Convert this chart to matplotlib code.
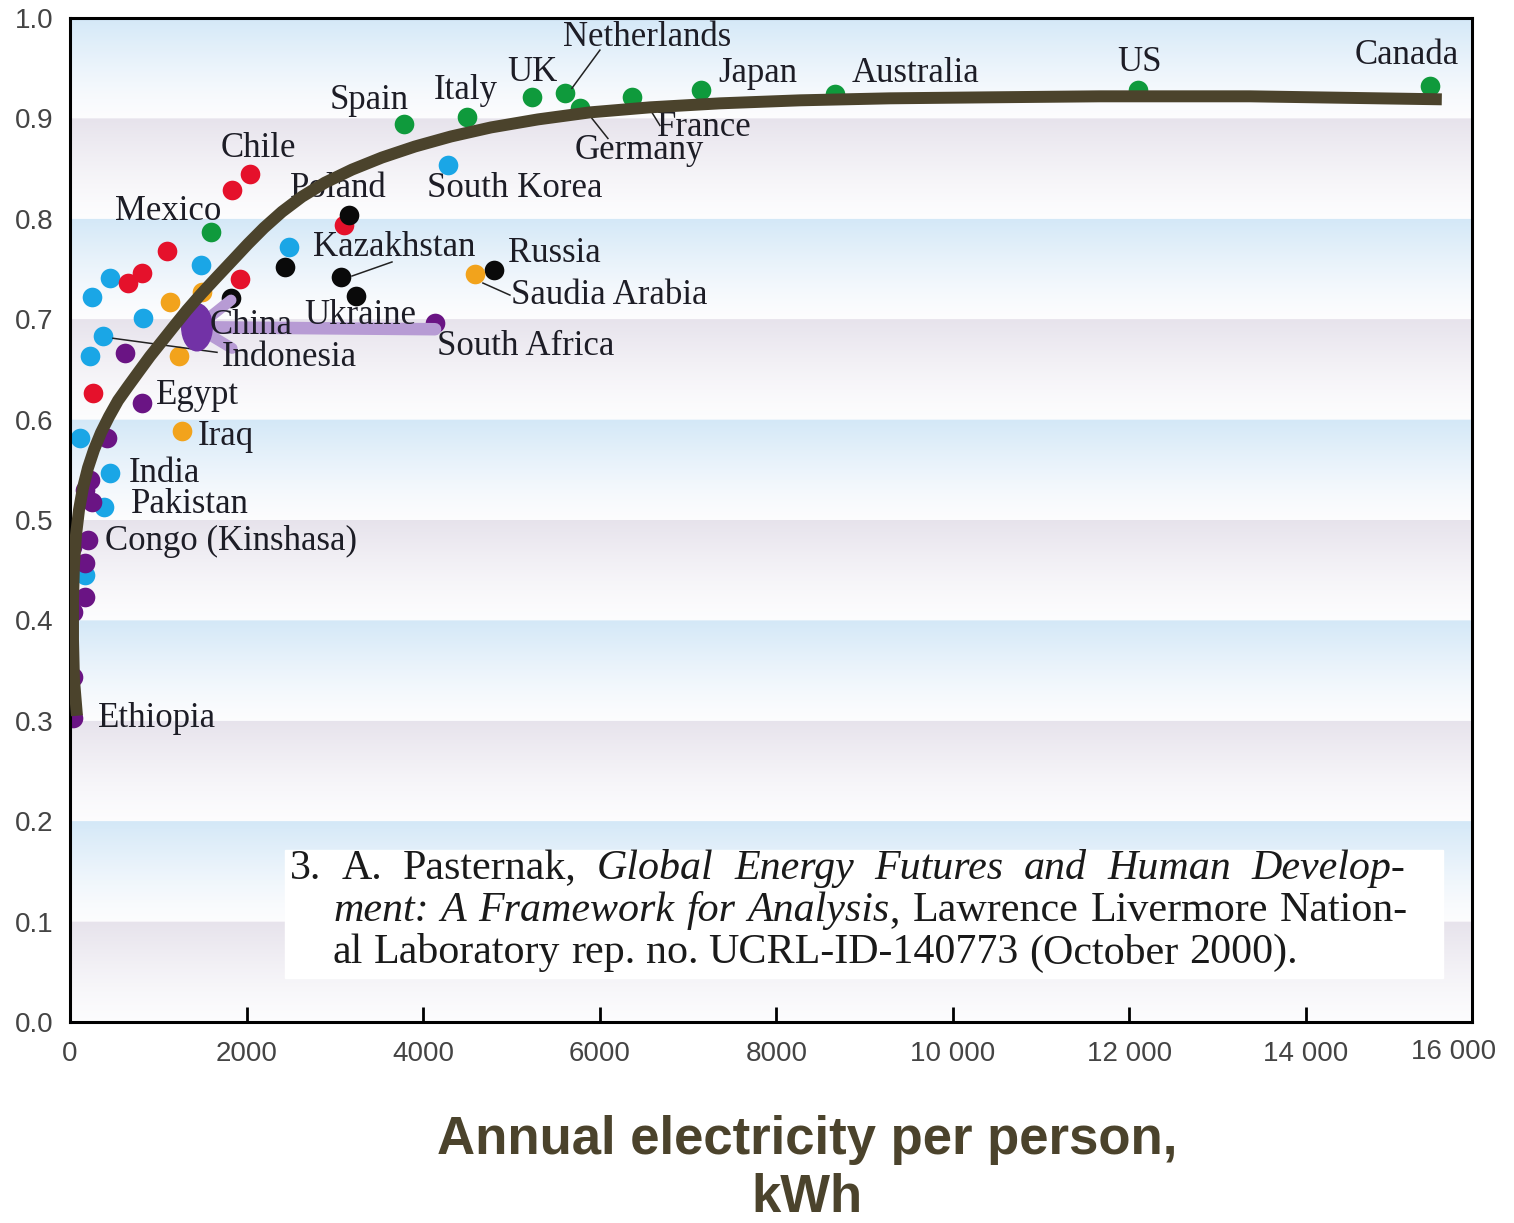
import numpy as np
import matplotlib
matplotlib.use('Agg')
import matplotlib.pyplot as plt
from matplotlib.patches import Ellipse, Rectangle

# 各国数据 (年人均用电量 kWh, 指数)
green_x = [15400, 12100, 8660, 7150, 6370, 5780, 5610, 5230, 4500, 3780, 1600]
green_y = [0.932, 0.928, 0.924, 0.928, 0.921, 0.910, 0.925, 0.921, 0.901, 0.894, 0.787]

blue_x = [4280, 2480, 1485, 830, 455, 250, 375, 228, 113, 455, 385, 170]
blue_y = [0.854, 0.772, 0.754, 0.701, 0.741, 0.722, 0.683, 0.663, 0.582, 0.547, 0.513, 0.445]

red_x = [2040, 1835, 3100, 1100, 815, 657, 1925, 260]
red_y = [0.845, 0.829, 0.794, 0.768, 0.746, 0.736, 0.740, 0.626]

black_x = [3160, 2435, 3070, 3240, 1823, 4800]
black_y = [0.804, 0.752, 0.742, 0.723, 0.721, 0.749]

orange_x = [4590, 1495, 1133, 1234, 1268]
orange_y = [0.745, 0.727, 0.717, 0.663, 0.589]

purple_x = [4135, 623, 815, 419, 227, 170, 249, 204, 23, 170, 170, 34, 34, 34]
purple_y = [0.696, 0.666, 0.617, 0.582, 0.540, 0.530, 0.518, 0.480, 0.473, 0.457, 0.423, 0.408, 0.344, 0.303]

china_x, china_y = 1438, 0.692
south_africa_x, south_africa_y = 4135, 0.694

# 拟合曲线
curve_x = [79, 45, 34, 34, 45, 68, 102, 147, 204, 272, 351, 442, 544, 657, 781, 906, 1042,
           1178, 1325, 1484, 1653, 1835, 2016, 2197, 2401, 2627, 2888, 3194, 3533, 3907, 4315,
           4768, 5300, 5889, 6569, 7361, 8267, 9286, 10419, 11665, 13364, 15538]
curve_y = [0.305, 0.341, 0.381, 0.420, 0.455, 0.485, 0.510, 0.532, 0.552, 0.570, 0.587, 0.603,
           0.619, 0.633, 0.648, 0.663, 0.678, 0.693, 0.709, 0.725, 0.741, 0.758, 0.775, 0.791,
           0.807, 0.822, 0.836, 0.849, 0.861, 0.872, 0.882, 0.891, 0.899, 0.906, 0.911, 0.915,
           0.918, 0.920, 0.921, 0.922, 0.922, 0.919]

# 国家标签
label_text = ['Netherlands', 'UK', 'Italy', 'Spain', 'Japan', 'Australia', 'US', 'Canada',
              'France', 'Germany', 'Chile', 'Poland', 'South Korea', 'Mexico', 'Kazakhstan',
              'Russia', 'Saudia Arabia', 'Ukraine', 'China', 'Indonesia', 'South Africa',
              'Egypt', 'Iraq', 'India', 'Pakistan', 'Congo (Kinshasa)', 'Ethiopia']
label_x = [5583, 4949, 4122, 2945, 7339, 8856, 11857, 14553, 6648, 5719, 1710, 2492, 4043, 510,
           2752, 4960, 4994, 2650, 1586, 1721, 4156, 974, 1450, 668, 691, 396, 317]
label_y = [0.981, 0.946, 0.928, 0.918, 0.945, 0.945, 0.956, 0.963, 0.891, 0.868, 0.870, 0.830,
           0.830, 0.807, 0.771, 0.765, 0.724, 0.704, 0.694, 0.662, 0.673, 0.624, 0.583, 0.546,
           0.515, 0.479, 0.302]

# 引线
leaders = [(6002, 0.968, 5685, 0.930), (5912, 0.900, 6093, 0.880), (6591, 0.906, 6682, 0.893),
           (3194, 0.743, 3647, 0.757), (4677, 0.736, 4983, 0.724), (1133, 0.694, 1280, 0.694),
           (487, 0.681, 1665, 0.667)]

xticks = [0, 2000, 4000, 6000, 8000, 10000, 12000, 14000]
xtick_labels = ['0', '2000', '4000', '6000', '8000', '10 000', '12 000', '14 000']
yticks = [0.0, 0.1, 0.2, 0.3, 0.4, 0.5, 0.6, 0.7, 0.8, 0.9, 1.0]

W, H = 1514, 1223
fig = plt.figure(figsize=(W / 100, H / 100), dpi=100)
ax = fig.add_axes([70 / W, 1 - 1022 / H, 1402 / W, 1004 / H])
xmax = 15880

# 背景渐变条纹
n = 1000
yy = (np.arange(n) + 0.5) / n
band = np.floor(yy * 10).astype(int)
frac = yy * 10 - band
blue = np.array([0.83, 0.91, 0.97])
lav = np.array([0.905, 0.89, 0.925])
white = np.array([0.99, 0.99, 0.995])
img = np.zeros((n, 1, 3))
for i in range(n):
    top = blue if band[i] % 2 == 1 else lav
    img[i, 0] = white + (top - white) * frac[i] ** 1.3
ax.imshow(img, extent=[0, xmax, 0, 1], origin='lower', aspect='auto', zorder=0)

dot = 200
ax.scatter(green_x, green_y, s=dot, color='#0f9a3c', lw=0, zorder=2)
ax.scatter(blue_x, blue_y, s=dot, color='#1aa6e6', lw=0, zorder=2)
ax.scatter(red_x, red_y, s=dot, color='#e5112b', lw=0, zorder=2)
ax.scatter(black_x, black_y, s=dot, color='#0a0a0a', lw=0, zorder=2)
ax.scatter(orange_x, orange_y, s=dot, color='#f2a31c', lw=0, zorder=2)
ax.scatter(purple_x, purple_y, s=dot, color='#6a1484', lw=0, zorder=2)

# 中国高亮
lav_c = '#b79bd4'
ax.plot([china_x, south_africa_x], [china_y, south_africa_y - 0.004], color=lav_c, lw=9,
        solid_capstyle='round', zorder=3)
ax.plot([china_x, black_x[4]], [china_y, black_y[4] - 0.002], color=lav_c, lw=8,
        solid_capstyle='round', zorder=3)
ax.plot([china_x, 1835], [china_y, 0.671], color=lav_c, lw=8, solid_capstyle='round', zorder=3)
ax.add_patch(Ellipse((china_x, china_y), width=345, height=0.047, color='#7232a6', zorder=4))

for x0, y0, x1, y1 in leaders:
    ax.plot([x0, x1], [y0, y1], color='#222222', lw=1.1, zorder=3)

for t, x, y in zip(label_text, label_x, label_y):
    ax.text(x, y, t, fontsize=25, family='Liberation Serif', color='#1d1d26',
            ha='left', va='center', zorder=5)

ax.plot(curve_x, curve_y, color='#4b432c', lw=8.6, solid_capstyle='butt',
        solid_joinstyle='round', zorder=6)

ax.set_xlim(0, xmax)
ax.set_ylim(0, 1)
ax.set_xticks(xticks)
ax.set_xticklabels(xtick_labels)
ax.set_yticks(yticks)
ax.set_yticklabels(['%.1f' % v for v in yticks])
ax.tick_params(axis='x', direction='in', length=11, width=2, pad=14, labelsize=20,
               labelcolor='#444444')
ax.tick_params(axis='y', length=0, pad=12, labelsize=20, labelcolor='#444444')
for lab in ax.get_xticklabels() + ax.get_yticklabels():
    lab.set_family('Liberation Sans')
for s in ax.spines.values():
    s.set_linewidth(2.2)
    s.set_color('black')
ax.text(15674, -0.03, '16 000', fontsize=20, family='Liberation Sans', color='#444444',
        ha='center', va='center', transform=ax.transData, clip_on=False)

# 引用文献框
fig.patches.append(Rectangle((285 / W, 1 - 978 / H), (1443 - 285) / W, (978 - 850) / H,
                             transform=fig.transFigure, color='white', zorder=7))

renderer = fig.canvas.get_renderer()

# 以第三行的宽度确定字号
probe = fig.text(0, 0, 'al Laboratory rep. no. UCRL-ID-140773 (October 2000).', fontsize=20,
                 family='Liberation Serif')
cite_size = 20 * (1297 - 333) / probe.get_window_extent(renderer).width
probe.remove()


def put_line(tokens, x0, x1, py, justify=True):
    # tokens: (text, italic, space_before)
    objs = []
    for txt, it, sp in tokens:
        t = fig.text(0, 0, txt, fontsize=cite_size, family='Liberation Serif',
                     style='italic' if it else 'normal', color='#1a1a1a', va='center',
                     ha='left', zorder=8)
        w = t.get_window_extent(renderer).width
        objs.append((t, w, sp))
    n_gaps = sum(1 for o in objs[1:] if o[2])
    total = sum(o[1] for o in objs)
    gap = (x1 - x0 - total) / n_gaps if justify else cite_size * 100 / 72 * 0.25
    x = x0
    for k, (t, w, sp) in enumerate(objs):
        if k > 0 and sp:
            x += gap
        t.set_position((x / W, 1 - py / H))
        x += w


line1 = [('3.', 0, 1), ('A.', 0, 1), ('Pasternak,', 0, 1), ('Global', 1, 1), ('Energy', 1, 1),
         ('Futures', 1, 1), ('and', 1, 1), ('Human', 1, 1), ('Develop-', 1, 1)]
line2 = [('ment:', 1, 1), ('A', 1, 1), ('Framework', 1, 1), ('for', 1, 1), ('Analysis', 1, 1),
         (',', 0, 0), ('Lawrence', 0, 1), ('Livermore', 0, 1), ('Nation-', 0, 1)]
line3 = [(w, 0, 1) for w in 'al Laboratory rep. no. UCRL-ID-140773 (October 2000).'.split()]
put_line(line1, 290, 1405, 869)
put_line(line2, 333, 1408, 911)
put_line(line3, 333, 1297, 953, justify=False)

fig.text(807 / W, 1 - 1140 / H, 'Annual electricity per person,', fontsize=38,
         family='Liberation Sans', weight='bold', color='#4b432c', ha='center', va='center')
fig.text(807 / W, 1 - 1198 / H, 'kWh', fontsize=38, family='Liberation Sans', weight='bold',
         color='#4b432c', ha='center', va='center')

fig.savefig('out.png', dpi=100, facecolor='white')
